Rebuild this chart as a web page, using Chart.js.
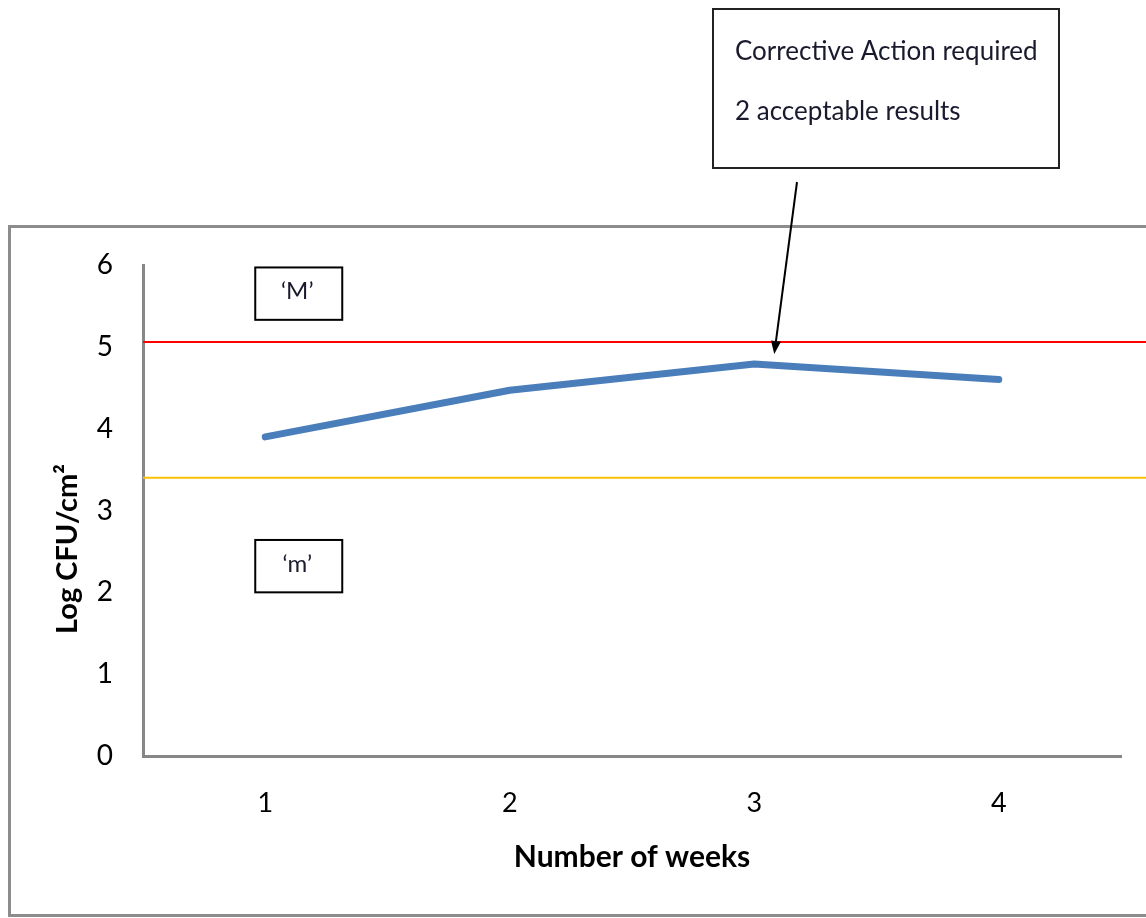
<!DOCTYPE html>
<html>
<head>
<meta charset="utf-8">
<script src="https://cdn.jsdelivr.net/npm/chart.js@4/dist/chart.umd.min.js"></script>
<style>
  html, body { margin: 0; padding: 0; background: #fff; }
  canvas { display: block; }
</style>
</head>
<body>
<canvas id="chart" width="1146" height="918"></canvas>
<script>
const weeks = ['1', '2', '3', '4'];
const logCfu = [3.9, 4.47, 4.79, 4.6];
const yTicks = [0, 1, 2, 3, 4, 5, 6];
const upperLimit = 5.06; // 'M'
const lowerLimit = 3.4;  // 'm'
const calloutLines = ['Corrective Action required', '2 acceptable results'];
const flagged = 2; // week 3

const FONT = 'Lato, "Open Sans", sans-serif';

// frame, limit lines, labels and callout
const extras = {
    id: 'extras',
    beforeDatasetsDraw(chart) {
        const ctx = chart.ctx;
        const y = chart.scales.y;
        ctx.save();
        // outer frame
        ctx.strokeStyle = '#8c8c8c';
        ctx.lineWidth = 3;
        ctx.strokeRect(9.5, 226.5, 1150, 689);
        // limit lines
        ctx.lineWidth = 2;
        ctx.strokeStyle = '#ff0000';
        ctx.beginPath();
        ctx.moveTo(chart.chartArea.left, y.getPixelForValue(upperLimit));
        ctx.lineTo(chart.width, y.getPixelForValue(upperLimit));
        ctx.stroke();
        ctx.strokeStyle = '#ffc000';
        ctx.beginPath();
        ctx.moveTo(chart.chartArea.left, y.getPixelForValue(lowerLimit));
        ctx.lineTo(chart.width, y.getPixelForValue(lowerLimit));
        ctx.stroke();
        ctx.restore();
    },
    afterDraw(chart) {
        const ctx = chart.ctx;
        const x = chart.scales.x, y = chart.scales.y;
        ctx.save();
        // 'M' and 'm' boxes
        const bx = x.getPixelForValue(0) - 10;
        [['\u2018M\u2019', 5.97, 5.33], ['\u2018m\u2019', 2.64, 2.0]].forEach(([t, hi, lo]) => {
            const top = y.getPixelForValue(hi), bot = y.getPixelForValue(lo);
            ctx.strokeStyle = '#000';
            ctx.lineWidth = 2;
            ctx.strokeRect(bx, top, 87, bot - top);
            ctx.fillStyle = '#1a1a2e';
            ctx.font = '24px ' + FONT;
            ctx.textAlign = 'center';
            ctx.textBaseline = 'middle';
            ctx.fillText(t, bx + 42, (top + bot) / 2 - 2);
        });
        // y axis title
        ctx.save();
        ctx.translate(68, 549);
        ctx.rotate(-Math.PI / 2);
        ctx.font = 'bold 29px ' + FONT;
        ctx.fillStyle = '#000';
        ctx.textAlign = 'center';
        ctx.textBaseline = 'middle';
        ctx.fillText('Log CFU/cm\u00b2', 0, 0);
        ctx.restore();
        // callout
        ctx.strokeStyle = '#222';
        ctx.lineWidth = 2;
        ctx.strokeRect(713, 9, 346, 159);
        ctx.fillStyle = '#1a1a2e';
        ctx.font = '26px ' + FONT;
        ctx.textAlign = 'left';
        ctx.textBaseline = 'middle';
        ctx.fillText(calloutLines[0], 735, 52);
        ctx.fillText(calloutLines[1], 735, 112);
        // arrow to flagged point
        const pt = chart.getDatasetMeta(0).data[flagged];
        const tx = pt.x + 20, ty = pt.y - 10;
        const sx = 797, sy = 182;
        const ang = Math.atan2(ty - sy, tx - sx);
        ctx.strokeStyle = '#000';
        ctx.fillStyle = '#000';
        ctx.lineWidth = 2;
        ctx.beginPath();
        ctx.moveTo(sx, sy);
        ctx.lineTo(tx - 10 * Math.cos(ang), ty - 10 * Math.sin(ang));
        ctx.stroke();
        ctx.beginPath();
        ctx.moveTo(tx, ty);
        ctx.lineTo(tx - 13 * Math.cos(ang) + 5 * Math.sin(ang), ty - 13 * Math.sin(ang) - 5 * Math.cos(ang));
        ctx.lineTo(tx - 13 * Math.cos(ang) - 5 * Math.sin(ang), ty - 13 * Math.sin(ang) + 5 * Math.cos(ang));
        ctx.closePath();
        ctx.fill();
        ctx.restore();
    }
};

const ctx = document.getElementById('chart').getContext('2d');
const myChart = new Chart(ctx, {
    type: 'line',
    data: {
        labels: weeks,
        datasets: [{
            label: 'Log CFU/cm\u00b2',
            data: logCfu,
            borderColor: '#4a7ebb',
            borderWidth: 7,
            borderCapStyle: 'round',
            borderJoinStyle: 'round',
            pointRadius: 0,
            tension: 0,
            fill: false
        }]
    },
    plugins: [extras],
    options: {
        responsive: false,
        animation: false,
        layout: { padding: { left: 0, top: 265, right: 25, bottom: 0 } },
        plugins: {
            legend: { display: false },
            tooltip: { enabled: false }
        },
        scales: {
            x: {
                offset: true,
                grid: { display: false, drawTicks: false },
                border: { display: true, color: '#878787', width: 3 },
                ticks: { color: '#000', font: { family: FONT, size: 27 }, padding: 31 },
                title: {
                    display: true,
                    text: 'Number of weeks',
                    color: '#000',
                    font: { family: FONT, size: 30, weight: 'bold' },
                    padding: { top: 0, bottom: 43 }
                },
                afterFit: s => { s.height = 162; }
            },
            y: {
                min: 0,
                max: 6,
                afterBuildTicks: s => { s.ticks = yTicks.map(v => ({ value: v })); },
                grid: { display: false, drawTicks: false },
                border: { display: true, color: '#878787', width: 3 },
                ticks: { color: '#000', font: { family: FONT, size: 28 }, padding: 30 },
                afterFit: s => { s.width = 143; }
            }
        }
    }
});
</script>
</body>
</html>
